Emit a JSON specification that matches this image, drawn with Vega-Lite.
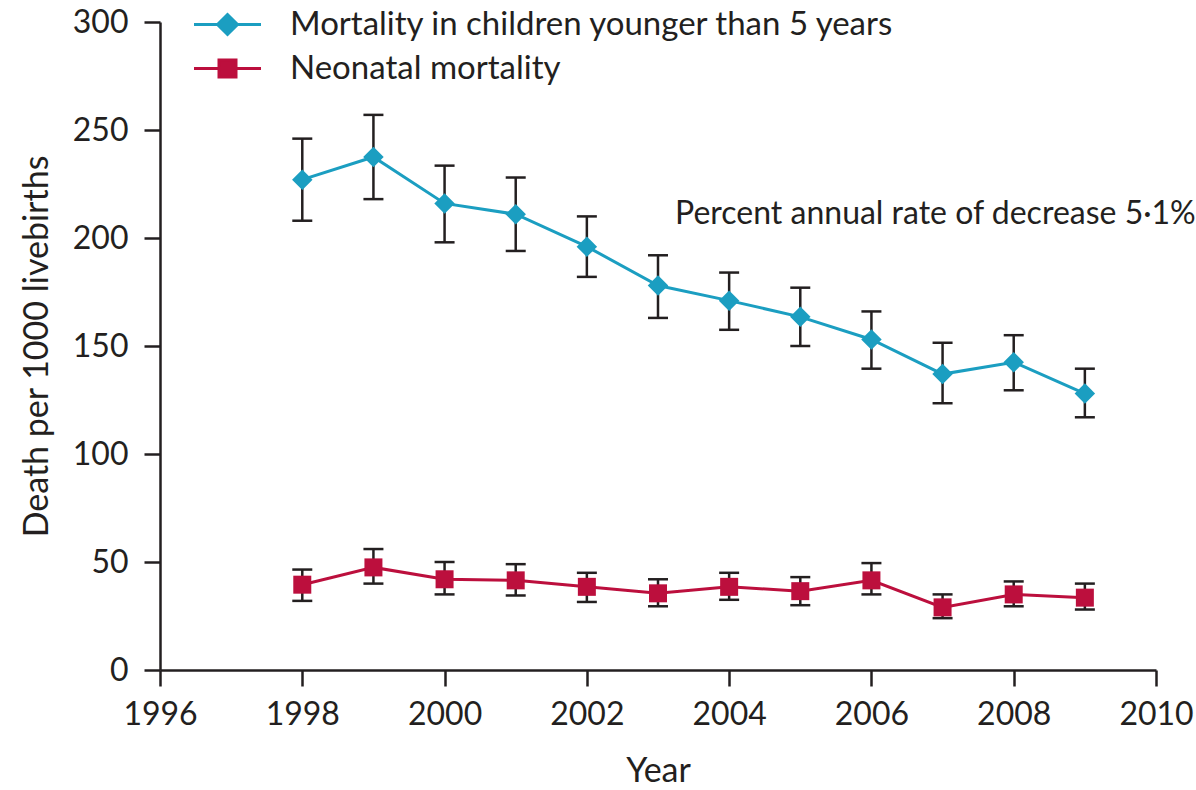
{
  "$schema": "https://vega.github.io/schema/vega-lite/v6.json",
  "width": 996,
  "height": 648,
  "autosize": "none",
  "padding": {"left": 160, "top": 22, "right": 40, "bottom": 120},
  "background": "white",
  "config": {
    "font": "Lato",
    "view": {"stroke": null},
    "axis": {
      "grid": false,
      "domainColor": "#231f20",
      "domainWidth": 2.5,
      "tickColor": "#231f20",
      "tickWidth": 2.5,
      "tickSize": 16,
      "labelFontSize": 32,
      "labelColor": "#231f20",
      "titleFontSize": 34,
      "titleFontWeight": "normal",
      "titleColor": "#231f20",
      "labelFlush": false,
      "labelOverlap": false
    }
  },
  "datasets": {
    "mort": [
      {"year": 1998, "series": "Mortality in children younger than 5 years", "value": 227, "lo": 208, "hi": 246},
      {"year": 1999, "series": "Mortality in children younger than 5 years", "value": 237.5, "lo": 218, "hi": 257},
      {"year": 2000, "series": "Mortality in children younger than 5 years", "value": 216, "lo": 198, "hi": 233.5},
      {"year": 2001, "series": "Mortality in children younger than 5 years", "value": 211, "lo": 194, "hi": 228},
      {"year": 2002, "series": "Mortality in children younger than 5 years", "value": 196, "lo": 182, "hi": 210},
      {"year": 2003, "series": "Mortality in children younger than 5 years", "value": 178, "lo": 163, "hi": 192},
      {"year": 2004, "series": "Mortality in children younger than 5 years", "value": 171, "lo": 157.5, "hi": 184},
      {"year": 2005, "series": "Mortality in children younger than 5 years", "value": 163.5, "lo": 150, "hi": 177},
      {"year": 2006, "series": "Mortality in children younger than 5 years", "value": 153, "lo": 139.5, "hi": 166},
      {"year": 2007, "series": "Mortality in children younger than 5 years", "value": 137, "lo": 123.5, "hi": 151.5},
      {"year": 2008, "series": "Mortality in children younger than 5 years", "value": 142.5, "lo": 129.5, "hi": 155},
      {"year": 2009, "series": "Mortality in children younger than 5 years", "value": 128, "lo": 117, "hi": 139.5},
      {"year": 1998, "series": "Neonatal mortality", "value": 39.5, "lo": 32, "hi": 46.5},
      {"year": 1999, "series": "Neonatal mortality", "value": 47.5, "lo": 40, "hi": 56},
      {"year": 2000, "series": "Neonatal mortality", "value": 42, "lo": 35, "hi": 50},
      {"year": 2001, "series": "Neonatal mortality", "value": 41.5, "lo": 34.5, "hi": 49},
      {"year": 2002, "series": "Neonatal mortality", "value": 38.5, "lo": 31.5, "hi": 45},
      {"year": 2003, "series": "Neonatal mortality", "value": 35.5, "lo": 29.5, "hi": 42},
      {"year": 2004, "series": "Neonatal mortality", "value": 38.5, "lo": 32.5, "hi": 45},
      {"year": 2005, "series": "Neonatal mortality", "value": 36.5, "lo": 30, "hi": 43},
      {"year": 2006, "series": "Neonatal mortality", "value": 41.5, "lo": 35, "hi": 49.5},
      {"year": 2007, "series": "Neonatal mortality", "value": 29, "lo": 24, "hi": 35},
      {"year": 2008, "series": "Neonatal mortality", "value": 35, "lo": 29.5, "hi": 41},
      {"year": 2009, "series": "Neonatal mortality", "value": 33.5, "lo": 28, "hi": 40}
    ],
    "notes": [
      {"note": "Percent annual rate of decrease 5·1%"}
    ]
  },
  "layer": [
    {
      "data": {"name": "mort"},
      "mark": {"type": "rule", "color": "#231f20", "strokeWidth": 2.5},
      "encoding": {
        "x": {
          "field": "year",
          "type": "quantitative",
          "scale": {"domain": [1996, 2010], "nice": false, "zero": false},
          "axis": {"values": [1996, 1998, 2000, 2002, 2004, 2006, 2008, 2010], "format": "d", "title": "Year", "labelPadding": 13, "titlePadding": 24}
        },
        "y": {"field": "lo", "type": "quantitative", "scale": {"domain": [0, 300], "nice": false},
          "axis": {"values": [0, 50, 100, 150, 200, 250, 300], "title": "Death per 1000 livebirths", "labelPadding": 16, "titlePadding": 18}},
        "y2": {"field": "hi"}
      }
    },
    {
      "data": {"name": "mort"},
      "mark": {"type": "tick", "orient": "horizontal", "size": 20, "thickness": 2.5, "color": "#231f20", "opacity": 1},
      "encoding": {
        "x": {"field": "year", "type": "quantitative"},
        "y": {"field": "lo", "type": "quantitative"}
      }
    },
    {
      "data": {"name": "mort"},
      "mark": {"type": "tick", "orient": "horizontal", "size": 20, "thickness": 2.5, "color": "#231f20", "opacity": 1},
      "encoding": {
        "x": {"field": "year", "type": "quantitative"},
        "y": {"field": "hi", "type": "quantitative"}
      }
    },
    {
      "data": {"name": "mort"},
      "mark": {"type": "line", "strokeWidth": 3},
      "encoding": {
        "x": {"field": "year", "type": "quantitative"},
        "y": {"field": "value", "type": "quantitative"},
        "color": {
          "field": "series",
          "type": "nominal",
          "scale": {"domain": ["Mortality in children younger than 5 years", "Neonatal mortality"], "range": ["#1b9ec1", "#bc0f3d"]},
          "legend": {
            "orient": "none",
            "legendX": 51,
            "legendY": -14,
            "title": null,
            "padding": 0,
            "symbolSize": 400,
            "symbolStrokeWidth": 3,
            "labelFontSize": 33,
            "labelColor": "#231f20",
            "labelOffset": 46,
            "rowPadding": 10,
            "labelLimit": 0,
            "encode": {
              "symbols": {
                "update": {
                  "shape": {"signal": "datum.value === 'Neonatal mortality' ? 'M-3.35,0H3.35M-0.85,-0.85H0.85V0.85H-0.85Z' : 'M-3.35,0H3.35M-1.0,0L0,-1.0L1.0,0L0,1.0Z'"},
                  "fill": {"signal": "scale('color', datum.value)"},
                  "fillOpacity": {"value": 1}
                }
              }
            }
          }
        }
      }
    },
    {
      "data": {"name": "mort"},
      "transform": [{"filter": "datum.series === 'Mortality in children younger than 5 years'"}],
      "mark": {"type": "point", "shape": "diamond", "filled": true, "opacity": 1, "size": 420},
      "encoding": {
        "x": {"field": "year", "type": "quantitative"},
        "y": {"field": "value", "type": "quantitative"},
        "color": {"field": "series", "type": "nominal"}
      }
    },
    {
      "data": {"name": "mort"},
      "transform": [{"filter": "datum.series === 'Neonatal mortality'"}],
      "mark": {"type": "point", "shape": "square", "filled": true, "opacity": 1, "size": 324},
      "encoding": {
        "x": {"field": "year", "type": "quantitative"},
        "y": {"field": "value", "type": "quantitative"},
        "color": {"field": "series", "type": "nominal"}
      }
    },
    {
      "data": {"name": "notes"},
      "mark": {"type": "text", "align": "left", "baseline": "middle", "fontSize": 32, "color": "#231f20"},
      "encoding": {
        "x": {"datum": 2003.24, "type": "quantitative"},
        "y": {"datum": 211, "type": "quantitative"},
        "text": {"field": "note", "type": "nominal"}
      }
    }
  ]
}
